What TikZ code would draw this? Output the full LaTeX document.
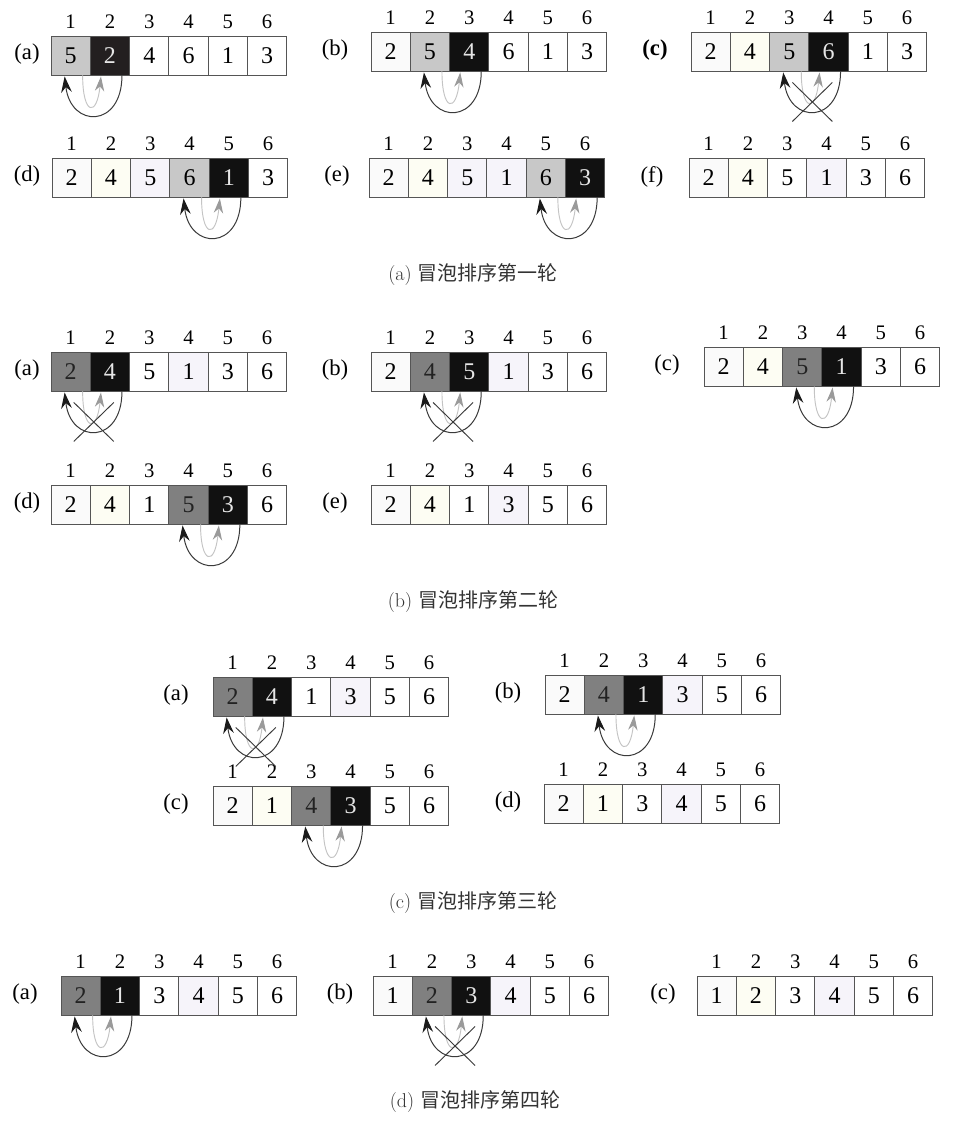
\documentclass[tikz,border=0pt]{standalone}
\usepackage{fontspec}
\newfontfamily\tnr{Liberation Serif}
\newfontfamily\cjk{Noto Sans CJK SC}
\usetikzlibrary{arrows.meta,calc}
\definecolor{lgc}{HTML}{C8C8C8}
\definecolor{mgc}{HTML}{808080}
\definecolor{bkc}{HTML}{111111}
\definecolor{bka}{HTML}{231F20}
\definecolor{wtc}{HTML}{E6E6E6}
\definecolor{dkt}{HTML}{222222}
\definecolor{t1}{HTML}{FAFAFA}
\definecolor{t2}{HTML}{FDFDF3}
\definecolor{t3}{HTML}{F6F4FA}
\definecolor{cellline}{HTML}{555555}
\definecolor{darkline}{HTML}{3A3A3A}
\definecolor{darkhead}{HTML}{1A1A1A}
\definecolor{grayline}{HTML}{C4C4C4}
\definecolor{grayhead}{HTML}{9A9A9A}
\definecolor{capc}{HTML}{333333}
\newcommand\Arr[6]{%
  \node[lbl] (#1-l) at (#5,{#3+18.5}) {#4};
  \foreach \cv/\cf/\ct [count=\i] in {#6} {
    \node[cell, fill=\cf, text=\ct] (#1-\i) at ({#2+(\i-0.5)*39.3},{#3+19.5}) {\cv};
    \node[idx] (#1-n\i) at ({#2+(\i-0.5)*39.3},{#3-14}) {\i};
  }%
}
\newcommand\SwapArcs[2]{%
  \pgfmathtruncatemacro\nx{#2+1}%
  \draw[grayarc] ($(#1-#2.south)+(12,0)$) .. controls ($(#1-#2.south)+(12,40)$) and ($(#1-\nx.south)+(-13,42)$) .. ($(#1-\nx.south)+(-9,1)$);
  \draw[darkarc] ($(#1-\nx.south)+(12,0)$) .. controls ($(#1-\nx.south)+(12,53)$) and ($(#1-#2.south)+(0,53)$) .. ($(#1-#2.south)+(-6,1)$);
}
\newcommand\NoSwap[2]{%
  \SwapArcs{#1}{#2}%
  \draw[xline] ($(#1-#2.south east)+(-17,11)$) -- ($(#1-#2.south east)+(23,50)$);
  \draw[xline] ($(#1-#2.south east)+(23,11)$) -- ($(#1-#2.south east)+(-17,50)$);
}
\begin{document}
\begin{tikzpicture}[x=0.75pt,y=-0.75pt,
  cell/.style={draw=cellline, line width=0.7pt, minimum width=29.475pt, minimum height=29.25pt, inner sep=0pt, font=\tnr\fontsize{18}{18}\selectfont},
  idx/.style={inner sep=0pt, font=\tnr\fontsize{15.5}{15.5}\selectfont},
  lbl/.style={inner sep=0pt, font=\tnr\fontsize{17}{17}\selectfont},
  captxt/.style={inner sep=0pt, text=capc, font=\fontsize{15}{17}\selectfont},
  darkarc/.style={draw=darkline, line width=0.75pt, -{Stealth[length=12pt,width=8pt,inset=4pt,color=darkhead]}},
  grayarc/.style={draw=grayline, line width=0.7pt, -{Stealth[length=11pt,width=7pt,inset=3.5pt,color=grayhead]}},
  xline/.style={draw=darkline, line width=0.7pt}]
\fill[white] (0,0) rectangle (956,1123);
\useasboundingbox (0,0) rectangle (956,1123);
% Round 1
\Arr{r1a}{51}{36}{(a)}{27}{5/lgc/black,2/bka/wtc,4/white/black,6/white/black,1/white/black,3/white/black}
\Arr{r1b}{371}{32}{(b)}{335}{2/t1/black,5/lgc/black,4/bkc/wtc,6/white/black,1/white/black,3/white/black}
\Arr{r1c}{691}{32}{\bfseries (c)}{655}{2/t1/black,4/t2/black,5/lgc/black,6/bkc/wtc,1/white/black,3/white/black}
\Arr{r1d}{52}{158}{(d)}{27}{2/t1/black,4/t2/black,5/t3/black,6/lgc/black,1/bkc/wtc,3/white/black}
\Arr{r1e}{369}{158}{(e)}{337}{2/t1/black,4/t2/black,5/t3/black,1/t3/black,6/lgc/black,3/bkc/wtc}
\Arr{r1f}{689}{158}{(f)}{652}{2/t1/black,4/t2/black,5/white/black,1/t3/black,3/white/black,6/white/black}
\SwapArcs{r1a}{1}
\SwapArcs{r1b}{2}
\NoSwap{r1c}{3}
\SwapArcs{r1d}{4}
\SwapArcs{r1e}{5}
\node[captxt] (cap1) at (473,275) {(a) {\cjk 冒泡排序第一轮}};
% Round 2
\Arr{r2a}{51}{352}{(a)}{27}{2/mgc/dkt,4/bkc/wtc,5/white/black,1/t3/black,3/white/black,6/white/black}
\Arr{r2b}{371}{352}{(b)}{335}{2/t1/black,4/mgc/dkt,5/bkc/wtc,1/t3/black,3/white/black,6/white/black}
\Arr{r2c}{704}{347}{(c)}{667}{2/t1/black,4/t2/black,5/mgc/dkt,1/bkc/wtc,3/white/black,6/white/black}
\Arr{r2d}{51}{485}{(d)}{27}{2/t1/black,4/t2/black,1/white/black,5/mgc/dkt,3/bkc/wtc,6/white/black}
\Arr{r2e}{371}{485}{(e)}{335}{2/t1/black,4/t2/black,1/white/black,3/t3/black,5/white/black,6/white/black}
\NoSwap{r2a}{1}
\NoSwap{r2b}{2}
\SwapArcs{r2c}{3}
\SwapArcs{r2d}{4}
\node[captxt] (cap2) at (473,602) {(b) {\cjk 冒泡排序第二轮}};
% Round 3
\Arr{r3a}{213}{677}{(a)}{176}{2/mgc/dkt,4/bkc/wtc,1/white/black,3/t3/black,5/white/black,6/white/black}
\Arr{r3b}{545}{675}{(b)}{508}{2/t1/black,4/mgc/dkt,1/bkc/wtc,3/t3/black,5/white/black,6/white/black}
\Arr{r3c}{213}{786}{(c)}{176}{2/t1/black,1/t2/black,4/mgc/dkt,3/bkc/wtc,5/white/black,6/white/black}
\Arr{r3d}{544}{784}{(d)}{508}{2/t1/black,1/t2/black,3/white/black,4/t3/black,5/white/black,6/white/black}
\NoSwap{r3a}{1}
\SwapArcs{r3b}{2}
\SwapArcs{r3c}{3}
\node[captxt] (cap3) at (473,903) {(c) {\cjk 冒泡排序第三轮}};
% Round 4
\Arr{r4a}{61}{976}{(a)}{25}{2/mgc/dkt,1/bkc/wtc,3/white/black,4/t3/black,5/white/black,6/white/black}
\Arr{r4b}{373}{976}{(b)}{340}{1/t1/black,2/mgc/dkt,3/bkc/wtc,4/t3/black,5/white/black,6/white/black}
\Arr{r4c}{697}{976}{(c)}{663}{1/t1/black,2/t2/black,3/white/black,4/t3/black,5/white/black,6/white/black}
\SwapArcs{r4a}{1}
\NoSwap{r4b}{2}
\node[captxt] (cap4) at (475,1102) {(d) {\cjk 冒泡排序第四轮}};
\end{tikzpicture}
\end{document}
